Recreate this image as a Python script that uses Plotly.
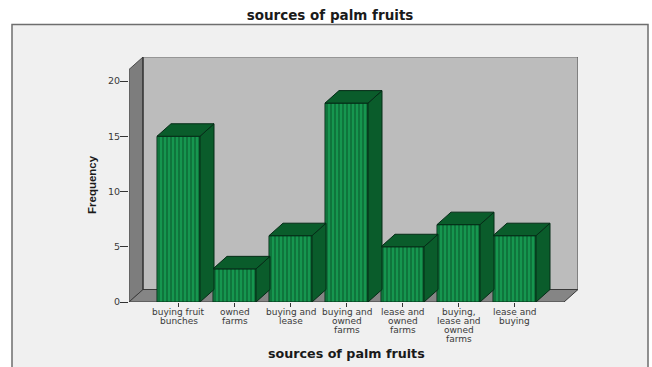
import plotly.graph_objects as go

categories = [["buying fruit", "bunches"], ["owned", "farms"], ["buying and", "lease"],
              ["buying and", "owned", "farms"], ["lease and", "owned", "farms"],
              ["buying,", "lease and", "owned", "farms"], ["lease and", "buying"]]
frequency = [15, 3, 6, 18, 5, 7, 6]
y_ticks = [0, 5, 10, 15, 20]

W, H = 652, 367
# plot box in page pixels
L, R, T, B = 129, 578, 57, 302
STEP_PX = 56.0
FIRST_CENTER_PX = 178.5
UNIT_PX = 11.05
DEPTH_PX_X, DEPTH_PX_Y = 14.0, 12.5
BAR_W = 43.0 / STEP_PX
LINE_PX = 9.0

x0 = (L - FIRST_CENTER_PX) / STEP_PX
x1 = (R - FIRST_CENTER_PX) / STEP_PX
ytop = (B - T) / UNIT_PX
dx = DEPTH_PX_X / STEP_PX
dy = DEPTH_PX_Y / UNIT_PX
positions = list(range(len(frequency)))

FACE = "#16964f"
STRIPE = "#075429"
SHADE = "#0a5c2b"
EDGE = "#052c17"
TEXT = "#3a3a3a"
TITLE = "#1a1a1a"


def px(xp):
    return (xp - L) / (R - L)


def py(yp):
    return (B - yp) / (B - T)


def poly(pts):
    return "M " + " L ".join(f"{a},{b}" for a, b in pts) + " Z"


shapes = [
    # outer panel
    dict(type="rect", xref="paper", yref="paper", layer="below",
         x0=px(12), x1=px(648), y0=py(368), y1=py(24.5),
         fillcolor="#f0f0f0", line=dict(color="#6e6e6e", width=1.5)),
    # back wall
    dict(type="path", xref="x", yref="y", layer="below",
         path=poly([(x0 + dx, dy), (x1, dy), (x1, ytop), (x0 + dx, ytop)]),
         fillcolor="#bcbcbc", line=dict(width=0)),
    # left wall
    dict(type="path", xref="x", yref="y", layer="below",
         path=poly([(x0, 0), (x0 + dx, dy), (x0 + dx, ytop), (x0, ytop - dy)]),
         fillcolor="#7d7d7d", line=dict(color="#4a4a4a", width=1)),
    # floor
    dict(type="path", xref="x", yref="y", layer="below",
         path=poly([(x0, 0), (x0 + dx, dy), (x1, dy), (x1 - dx, 0)]),
         fillcolor="#858585", line=dict(color="#3a3a3a", width=1)),
    # back wall edges
    dict(type="line", xref="x", yref="y", layer="below",
         x0=x0 + dx, x1=x1, y0=ytop, y1=ytop, line=dict(color="#8a8a8a", width=1.5)),
    dict(type="line", xref="x", yref="y", layer="below",
         x0=x0 + dx, x1=x0 + dx, y0=dy, y1=ytop, line=dict(color="#222222", width=1)),
    dict(type="line", xref="x", yref="y", layer="below",
         x0=x1, x1=x1, y0=dy, y1=ytop, line=dict(color="#444444", width=1)),
]

# category labels, one annotation per line for the tight line spacing
annotations = []
for p, lines in zip(positions, categories):
    for i, line in enumerate(lines):
        annotations.append(dict(
            x=p, xref="x", y=0, yref="y", yshift=-(10 + LINE_PX * i),
            text=line, showarrow=False, xanchor="center", yanchor="middle",
            font=dict(family="DejaVu Sans", size=9, color=TEXT),
        ))

# axis titles
annotations.append(dict(
    x=px(346.5), xref="paper", y=py(354), yref="paper",
    text="<b>sources of palm fruits</b>", showarrow=False,
    xanchor="center", yanchor="middle",
    font=dict(family="DejaVu Sans", size=12.7, color=TITLE),
))
annotations.append(dict(
    x=px(92), xref="paper", y=py(185), yref="paper",
    text="<b>Frequency</b>", showarrow=False, textangle=-90,
    xanchor="center", yanchor="middle",
    font=dict(family="Liberation Sans", size=11.5, color=TITLE),
))

fig = go.Figure()

# front faces
fig.add_trace(go.Bar(
    x=positions, y=frequency, width=BAR_W,
    marker=dict(color=FACE, line=dict(color=EDGE, width=1),
                pattern=dict(shape="|", size=4, solidity=0.5,
                             fgcolor=STRIPE, bgcolor=FACE)),
    hoverinfo="skip", showlegend=False,
))

# side and top faces, offset from each bar's front by the chart depth
for p, v in zip(positions, frequency):
    left = p - BAR_W / 2
    right = p + BAR_W / 2
    fig.add_trace(go.Scatter(
        x=[right, right + dx, right + dx, right, right],
        y=[0, dy, v + dy, v, 0],
        mode="lines", fill="toself", fillcolor=SHADE,
        line=dict(color=EDGE, width=1), hoverinfo="skip", showlegend=False,
    ))
    fig.add_trace(go.Scatter(
        x=[left, left + dx, right + dx, right, left],
        y=[v, v + dy, v + dy, v, v],
        mode="lines", fill="toself", fillcolor=SHADE,
        line=dict(color=EDGE, width=1), hoverinfo="skip", showlegend=False,
    ))

fig.update_layout(
    width=W, height=H,
    margin=dict(l=L, r=W - R, t=T, b=H - B, autoexpand=False),
    paper_bgcolor="white", plot_bgcolor="rgba(0,0,0,0)",
    shapes=shapes, annotations=annotations, showlegend=False,
    title=dict(text="<b>sources of palm fruits</b>", x=330 / W, xanchor="center",
               y=1 - 15.5 / H, yanchor="middle",
               font=dict(family="DejaVu Sans", size=13.5, color=TITLE)),
    font=dict(family="DejaVu Sans", color=TEXT),
    xaxis=dict(range=[x0, x1], tickmode="array", tickvals=positions, showticklabels=False,
               ticks="outside", ticklen=4, tickcolor="#333333",
               showgrid=False, zeroline=False, showline=False),
    yaxis=dict(range=[0, ytop], tickmode="array", tickvals=y_ticks,
               ticks="outside", ticklen=8, tickcolor="#333333", tickwidth=1,
               ticklabelstandoff=-2,
               tickfont=dict(family="DejaVu Sans", size=9.5, color=TEXT),
               showgrid=False, zeroline=False, showline=False),
)

fig.write_html("out.html")
